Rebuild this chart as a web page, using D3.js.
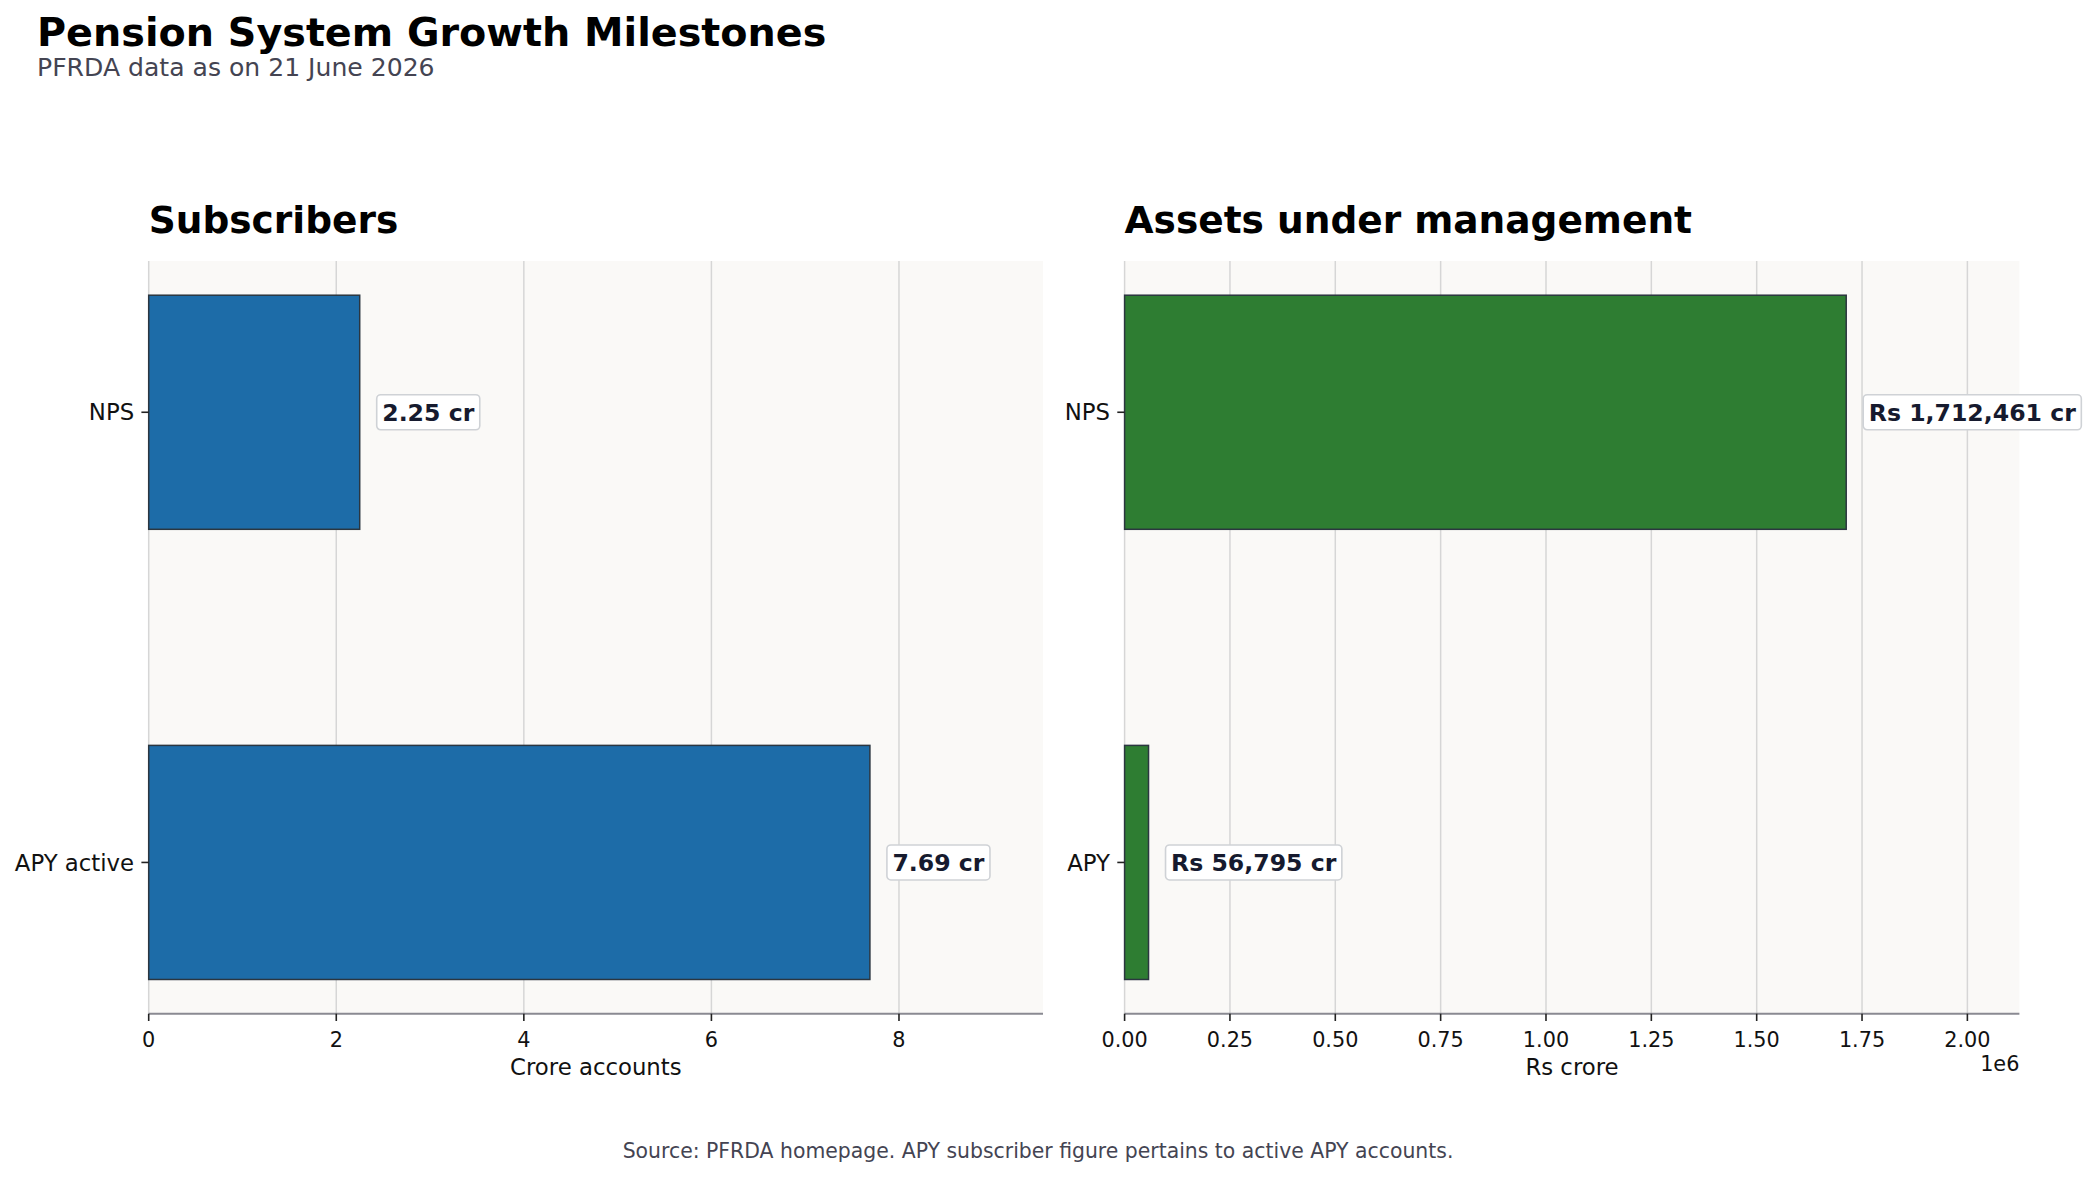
<!DOCTYPE html>
<meta charset="utf-8">
<style>
body { margin: 0; background: #fff; }
svg { font-family: "DejaVu Sans", sans-serif; }
.ticklab { font-size: 20.8px; fill: #111; }
.catlab { font-size: 22.8px; fill: #111; }
.axlab { font-size: 22.8px; fill: #111; text-anchor: middle; }
.vallab { font-size: 23.6px; font-weight: bold; fill: #161a2e; }
</style>
<svg width="2094" height="1177"></svg>
<script src="https://d3js.org/d3.v7.min.js"></script>
<script>
var subsCategories = ["NPS", "APY active"];
var subsValues = [2.25, 7.69];
var subsTicks = [0, 2, 4, 6, 8];

var aumCategories = ["NPS", "APY"];
var aumValues = [1712461, 56795];
var aumTicks = [0, 250000, 500000, 750000, 1000000, 1250000, 1500000, 1750000, 2000000];

var svg = d3.select("svg");

var top0 = 261, bottom0 = 1013.7;
var barH = 0.52;
var pad = 0.05 * (1 + barH);

svg.append("text")
  .attr("x", 37).attr("y", 46)
  .attr("font-size", 39.7).attr("font-weight", "bold").attr("fill", "#000")
  .text("Pension System Growth Milestones");
svg.append("text")
  .attr("x", 37).attr("y", 76)
  .attr("font-size", 25.1).attr("fill", "#444452")
  .text("PFRDA data as on 21 June 2026");
svg.append("text")
  .attr("x", 1038).attr("y", 1158)
  .attr("text-anchor", "middle")
  .attr("font-size", 20.4).attr("fill", "#444452")
  .text("Source: PFRDA homepage. APY subscriber figure pertains to active APY accounts.");

function panel(opts) {
  var g = svg.append("g");
  var x = d3.scaleLinear().domain([0, d3.max(opts.values) * 1.24]).range([opts.left, opts.right]);
  var y = d3.scaleLinear().domain([-barH / 2 - pad, 1 + barH / 2 + pad]).range([top0, bottom0]);

  g.append("rect")
    .attr("x", opts.left).attr("y", top0)
    .attr("width", opts.right - opts.left).attr("height", bottom0 - top0)
    .attr("fill", "#faf9f7");

  g.append("text")
    .attr("x", opts.left).attr("y", 233)
    .attr("font-size", 37.5).attr("font-weight", "bold").attr("fill", "#000")
    .text(opts.title);

  // grid
  g.selectAll(".grid").data(opts.ticks).enter().append("line")
    .attr("x1", d => x(d)).attr("x2", d => x(d))
    .attr("y1", top0).attr("y2", bottom0)
    .attr("stroke", "#d6d6d6").attr("stroke-width", 1.5);

  // bars
  g.selectAll(".bar").data(opts.values).enter().append("rect")
    .attr("x", x(0))
    .attr("y", (d, i) => y(i - barH / 2))
    .attr("width", d => x(d) - x(0))
    .attr("height", y(barH) - y(0))
    .attr("fill", opts.color)
    .attr("stroke", "#2b3640").attr("stroke-width", 1.5);

  // bottom spine + x ticks
  g.append("line")
    .attr("x1", opts.left).attr("x2", opts.right)
    .attr("y1", bottom0).attr("y2", bottom0)
    .attr("stroke", "#8a8a92").attr("stroke-width", 2);
  var xt = g.selectAll(".xt").data(opts.ticks).enter().append("g")
    .attr("transform", d => "translate(" + x(d) + "," + bottom0 + ")");
  xt.append("line").attr("y2", 7.3).attr("stroke", "#222").attr("stroke-width", 1.6);
  xt.append("text").attr("class", "ticklab")
    .attr("y", 33.3).attr("text-anchor", "middle")
    .text(opts.tickFormat);

  // y ticks
  var yt = g.selectAll(".yt").data(opts.categories).enter().append("g")
    .attr("transform", (d, i) => "translate(" + opts.left + "," + y(i) + ")");
  yt.append("line").attr("x2", -7.3).attr("stroke", "#222").attr("stroke-width", 1.6);
  yt.append("text").attr("class", "catlab")
    .attr("x", -14.6).attr("dy", "0.36em").attr("text-anchor", "end")
    .text(d => d);

  g.append("text").attr("class", "axlab")
    .attr("x", (opts.left + opts.right) / 2).attr("y", 1075)
    .text(opts.xlabel);
  if (opts.offset) {
    g.append("text").attr("class", "ticklab")
      .attr("x", opts.right).attr("y", 1070.7).attr("text-anchor", "end")
      .text(opts.offset);
  }

  // value labels with boxes
  var lab = g.selectAll(".lab").data(opts.values).enter().append("g")
    .attr("transform", (d, i) => "translate(" + (x(d) + 17) + "," + y(i) + ")");
  var rects = lab.append("rect")
    .attr("y", -17.5).attr("height", 35).attr("rx", 4)
    .attr("fill", "#fff").attr("stroke", "#cfd2d6").attr("stroke-width", 1.6);
  var texts = lab.append("text").attr("class", "vallab")
    .attr("x", 5.5).attr("dy", "0.36em")
    .text(opts.labelFormat);
  texts.each(function (d, i) {
    var w = this.getComputedTextLength();
    d3.select(rects.nodes()[i]).attr("width", w + 11);
  });
}

panel({
  title: "Subscribers", categories: subsCategories, values: subsValues,
  ticks: subsTicks, left: 148.7, right: 1043, color: "#1d6ca8",
  tickFormat: d => d3.format("d")(d), xlabel: "Crore accounts",
  labelFormat: d => d3.format(".2f")(d) + " cr"
});

panel({
  title: "Assets under management", categories: aumCategories, values: aumValues,
  ticks: aumTicks, left: 1124.6, right: 2019.4, color: "#2e7d32",
  tickFormat: d => (d / 1e6).toFixed(2), xlabel: "Rs crore", offset: "1e6",
  labelFormat: d => "Rs " + d3.format(",")(d) + " cr"
});
</script>
